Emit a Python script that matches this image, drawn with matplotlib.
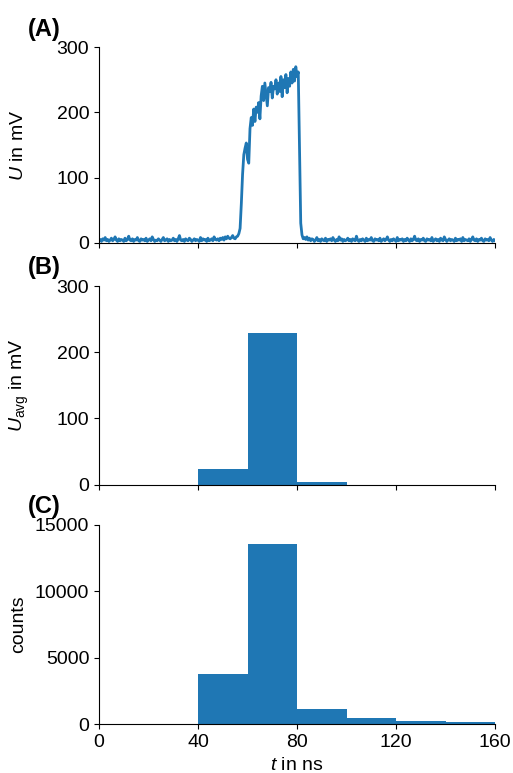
import matplotlib
matplotlib.use("Agg")
import matplotlib.pyplot as plt
import numpy as np

plt.rcParams['font.family'] = ['Liberation Sans', 'DejaVu Sans']
plt.rcParams['font.size'] = 14
plt.rcParams['mathtext.fontset'] = 'custom'
plt.rcParams['mathtext.it'] = 'Liberation Sans:italic'
plt.rcParams['mathtext.rm'] = 'Liberation Sans'

# trace (A), sampled every 0.5 ns
u_before = [3, 5, 2, 6, 4, 8, 3, 5, 2, 4, 7, 3, 5, 9, 4, 2, 6, 3, 5, 4,
            2, 7, 3, 5, 10, 4, 3, 6, 2, 5, 4, 8, 3, 2, 6, 4, 5, 3, 7, 2,
            4, 6, 3, 9, 5, 2, 4, 3, 6, 4, 2, 5, 8, 3, 4, 6, 2, 5, 3, 4,
            7, 3, 5, 2, 6, 11, 4, 3, 5, 2, 6, 4, 3, 7, 5, 2, 4, 6, 3, 5,
            4, 2, 8, 3, 6, 4, 5, 2, 7, 3, 4, 6, 3, 9, 5, 4, 6, 3, 7, 5,
            8, 4, 9, 6, 10, 7, 6, 8, 11, 7]
u_pulse = [6, 9, 10, 14, 22, 60, 105, 135, 145, 153, 128, 122, 175, 192, 180,
           205, 186, 208, 200, 215, 190, 225, 240, 218, 245, 228, 210, 238, 232,
           246, 222, 240, 236, 250, 228, 245, 232, 255, 224, 250, 238, 258, 230,
           252, 240, 262, 245, 266, 248, 270, 255, 262, 150, 30, 12, 6, 8]
u_after = [5, 9, 4, 7, 3, 6, 5, 2, 4, 8, 3, 5, 2, 6, 4, 3, 7, 2, 5, 4,
           6, 3, 8, 4, 2, 5, 3, 9, 4, 6, 2, 5, 3, 4, 7, 3, 5, 2, 6, 4,
           3, 10, 4, 2, 5, 3, 6, 4, 2, 7, 3, 5, 4, 8, 3, 2, 6, 4, 5, 3,
           7, 2, 4, 6, 3, 5, 9, 4, 2, 5, 3, 6, 4, 2, 8, 3, 5, 4, 6, 2,
           5, 3, 7, 4, 2, 6, 3, 5, 10, 4, 3, 6, 2, 5, 4, 7, 3, 2, 6, 4,
           5, 3, 8, 2, 4, 6, 3, 5, 2, 7, 4, 3, 9, 5, 2, 4, 6, 3, 5, 4,
           2, 7, 3, 5, 4, 6, 2, 8, 3, 5, 4, 3, 6, 2, 5, 9, 4, 3, 6, 2,
           5, 4, 7, 3, 2, 6, 4, 5, 3, 8, 4, 2, 5, 3]
u_trace = np.array(u_before + u_pulse + u_after, dtype=float)
t_trace = 0.5 * np.arange(len(u_trace))

# binned data (B, C)
bin_edges = [40, 60, 80, 100, 120, 140]
u_avg = [24, 229, 4, 0, 0, 0]
counts = [3770, 13570, 1130, 450, 230, 150]

fig = plt.figure(figsize=(5.13, 7.73), dpi=100)
left, width = 0.193, 0.772
axA = fig.add_axes([left, 0.686, width, 0.253])
axB = fig.add_axes([left, 0.373, width, 0.257], sharex=axA)
axC = fig.add_axes([left, 0.063, width, 0.258], sharex=axA)

axA.plot(t_trace, u_trace, color='#1f77b4', lw=2)
axA.set_ylim(0, 300)
axA.set_yticks([0, 100, 200, 300])
axA.set_ylabel('$U$ in mV')

axB.bar(bin_edges, u_avg, width=20, align='edge', color='#1f77b4')
axB.set_ylim(0, 300)
axB.set_yticks([0, 100, 200, 300])
axB.set_ylabel(r'$U_\mathrm{avg}$ in mV')

axC.bar(bin_edges, counts, width=20, align='edge', color='#1f77b4')
axC.set_ylim(0, 15000)
axC.set_yticks([0, 5000, 10000, 15000])
axC.set_ylabel('counts')
axC.set_xlabel('$t$ in ns')

axC.set_xlim(0, 160)
axC.set_xticks([0, 40, 80, 120, 160])

for ax, lab in zip([axA, axB, axC], ['(A)', '(B)', '(C)']):
    ax.spines['top'].set_visible(False)
    ax.spines['right'].set_visible(False)
    ax.text(-0.18, 1.058, lab, transform=ax.transAxes, fontweight='bold',
            fontsize=17, ha='left', va='baseline')
for ax in [axA, axB]:
    ax.tick_params(labelbottom=False)
axA.yaxis.set_label_coords(-0.182, 0.5)
axB.yaxis.set_label_coords(-0.172, 0.5)
axC.yaxis.set_label_coords(-0.182, 0.5)

fig.savefig('out.png', dpi=100)
